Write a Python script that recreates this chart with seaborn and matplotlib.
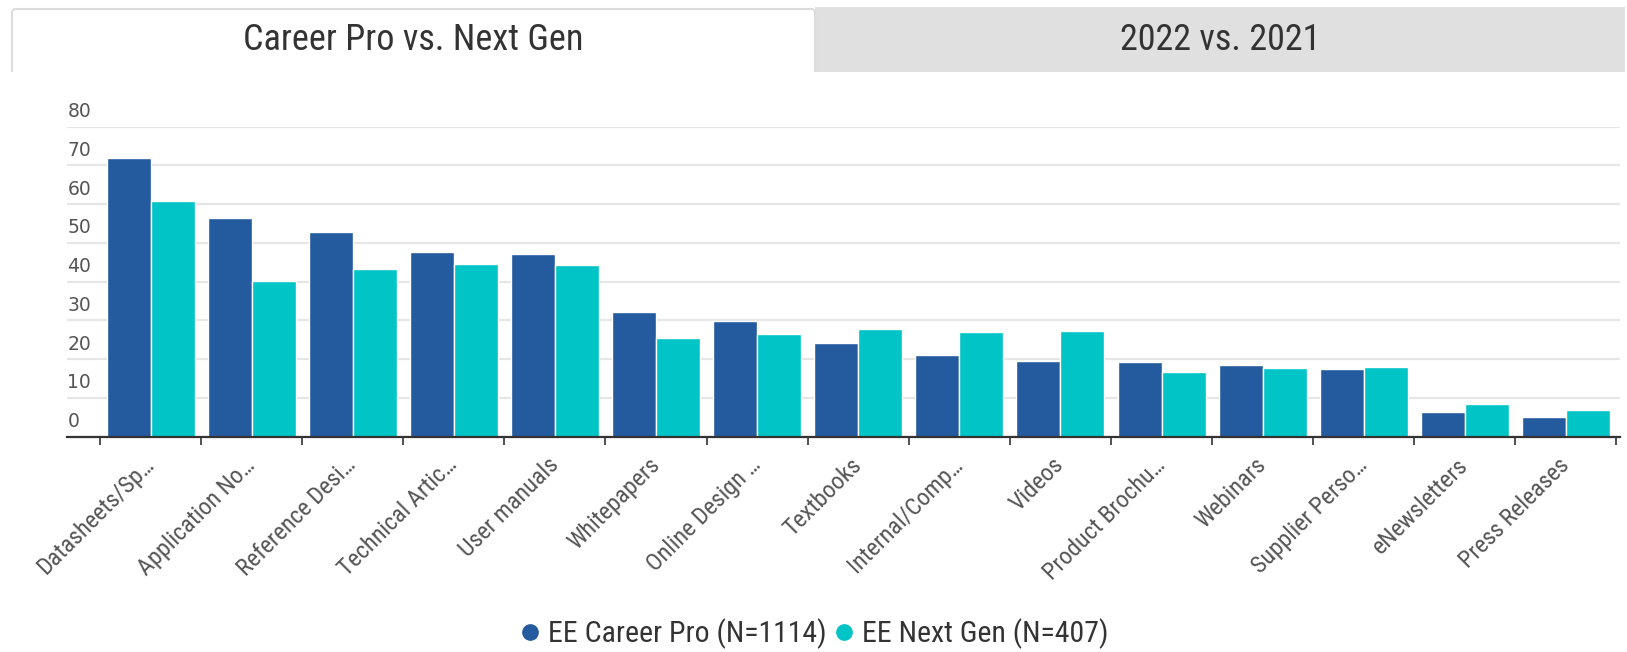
import numpy as np
import pandas as pd
import matplotlib
matplotlib.use("Agg")
import matplotlib.pyplot as plt
import seaborn as sns
from matplotlib import font_manager as fm
from matplotlib.patches import Rectangle, FancyBboxPatch
from matplotlib.lines import Line2D
from matplotlib.transforms import IdentityTransform

# ---------------- data ----------------
categories = ["Datasheets/Sp…", "Application No…", "Reference Desi…", "Technical Artic…",
              "User manuals", "Whitepapers", "Online Design …", "Textbooks",
              "Internal/Comp…", "Videos", "Product Brochu…", "Webinars",
              "Supplier Perso…", "eNewsletters", "Press Releases"]
career_pro = [72.0, 56.4, 52.7, 47.7, 47.1, 32.1, 29.9, 24.2, 21.0, 19.5, 19.2, 18.4, 17.5, 6.4, 5.0]
next_gen = [60.8, 40.2, 43.3, 44.6, 44.3, 25.4, 26.4, 27.9, 26.9, 27.4, 16.6, 17.8, 18.1, 8.4, 6.8]
series_names = ["EE Career Pro (N=1114)", "EE Next Gen (N=407)"]
y_ticks = [0, 10, 20, 30, 40, 50, 60, 70, 80]
tab_labels = ["Career Pro vs. Next Gen", "2022 vs. 2021"]
colors = ["#245a9e", "#00c4c6"]

df = pd.DataFrame({
    "category": categories * 2,
    "value": career_pro + next_gen,
    "series": [series_names[0]] * len(categories) + [series_names[1]] * len(categories),
})

# ---------------- fonts ----------------
sns.set_theme(style="white")


def _w(f):
    w = f.weight
    if isinstance(w, str):
        w = fm.weight_dict.get(w, 400)
    return w


light_faces = {}
for f in fm.fontManager.ttflist:
    if f.style == "normal":
        light_faces.setdefault(f.name, []).append(_w(f))

narrow, nweight = "DejaVu Sans", "normal"
for cand in ["Open Sans Condensed", "Liberation Sans Narrow", "Roboto Condensed",
             "DejaVu Sans Condensed"]:
    ws = [w for w in light_faces.get(cand, []) if w <= 450]
    if ws:
        narrow = cand
        nweight = min(ws, key=lambda w: abs(w - 350))
        break

regular = "DejaVu Sans"
plt.rcParams["font.family"] = [narrow, "DejaVu Sans"]
plt.rcParams["font.weight"] = nweight

W, H = 1627, 652
fig = plt.figure(figsize=(W / 100, H / 100), dpi=100)
fig.patch.set_facecolor("white")
renderer = fig.canvas.get_renderer()


def fit_size(text, target_px, base=20):
    t = fig.text(0, 0, text, fontsize=base, family=[narrow, "DejaVu Sans"], weight=nweight)
    w = t.get_window_extent(renderer).width
    t.remove()
    return base * target_px / w


# ---------------- axes ----------------
left_px, right_px, top_px, bottom_px = 66.7, 1620, 126.7, 436.7
ax = fig.add_axes([left_px / W, (H - bottom_px) / H, (right_px - left_px) / W, (bottom_px - top_px) / H])

sns.barplot(data=df, x="category", y="value", hue="series", order=categories,
            hue_order=series_names, palette=colors, width=0.87, edgecolor="white",
            linewidth=1.0, saturation=1, ax=ax, legend=False, errorbar=None)

cat_px = 101.1
x0 = -0.5 - (100 - left_px) / cat_px
x1 = -0.5 + (right_px - 100) / cat_px
ax.set_xlim(x0, x1)
ax.set_ylim(0, 80)
ax.set_xlabel("")
ax.set_ylabel("")

for s in ["left", "top", "right"]:
    ax.spines[s].set_visible(False)
ax.spines["bottom"].set_color("#333333")
ax.spines["bottom"].set_linewidth(1.6)

ax.set_yticks(y_ticks)
ax.set_yticklabels([])
ax.tick_params(axis="y", length=0)
ax.yaxis.grid(True, color="#e6e6e6", linewidth=1.6)
ax.set_axisbelow(True)

ysize = 13.5
for v in y_ticks:
    ax.annotate(f"{v}", xy=(0, v), xycoords=ax.get_yaxis_transform(),
                xytext=(0.5, 15 * 0.72), textcoords="offset points",
                ha="left", va="center", fontsize=ysize, color="#555555",
                family=regular, weight="normal", annotation_clip=False)

xsize = fit_size("User manuals", 130)
ax.set_xticks(range(len(categories)))
ax.set_xticklabels(categories, rotation=45, ha="right", rotation_mode="anchor",
                   va="center", fontsize=xsize, color="#555555")
ax.set_xticks(np.arange(len(categories) + 1) - 0.5, minor=True)
ax.tick_params(axis="x", which="major", length=0, pad=18)
ax.tick_params(axis="x", which="minor", length=6, width=1.2, color="#333333", direction="out", bottom=True)

# ---------------- tabs ----------------
ident = IdentityTransform()
fig.add_artist(Rectangle((815, H - 72), 1625 - 815, 65, transform=ident,
                         facecolor="#e0e0e0", edgecolor="none", zorder=1))
fig.add_artist(FancyBboxPatch((12, H - 95), 815 - 12, 95 - 9,
                              boxstyle="round,pad=0,rounding_size=4", transform=ident,
                              facecolor="white", edgecolor="#dcdcdc", linewidth=1.5, zorder=2))
fig.add_artist(Rectangle((5, H - 100), 820, 28, transform=ident,
                         facecolor="white", edgecolor="none", zorder=3))

tsize = fit_size(tab_labels[1], 202)
fig.text(413 / W, 1 - 40 / H, tab_labels[0], ha="center", va="center",
         fontsize=tsize, color="#333333", zorder=5)
fig.text(1220 / W, 1 - 40 / H, tab_labels[1], ha="center", va="center",
         fontsize=tsize, color="#333333", zorder=5)

# ---------------- legend ----------------
lsize = fit_size(series_names[0], 278)
handles = [Line2D([0], [0], marker="o", linestyle="none", markersize=11,
                  markerfacecolor=c, markeredgecolor=c) for c in colors]
fig.legend(handles, series_names, loc="center", bbox_to_anchor=(812 / W, 1 - 634 / H),
           ncol=2, frameon=False, fontsize=lsize, handletextpad=0.1,
           columnspacing=0.1, handlelength=1.0, labelcolor="#333333")

fig.savefig("out.png", dpi=100, facecolor="white")
